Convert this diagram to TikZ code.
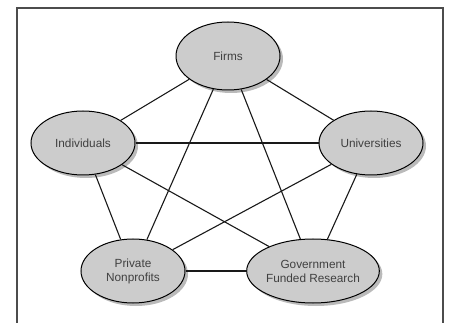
\documentclass[tikz,border=0pt]{standalone}
\usepackage{fontspec}
\setmainfont{Liberation Sans}
\usetikzlibrary{shapes.geometric,shadows}
\begin{document}
\begin{tikzpicture}[x=1pt,y=-1pt,
  actor/.style={ellipse, draw=black, line width=1pt, fill=black!20,
    minimum width=104pt, minimum height=64pt, inner sep=0pt,
    align=center, font=\fontsize{11.8}{14}\selectfont, text=black!75,
    drop shadow={shadow xshift=3pt, shadow yshift=-3pt, fill=black!45, opacity=0.6}},
  link/.style={draw=black!90, line width=1.1pt},
  frame/.style={draw=black!70, line width=1.1pt}]
\useasboundingbox (0,0) rectangle (450,323);
% open frame around the diagram
\draw[frame] (17,330) -- (17,8) -- (443,8) -- (443,330);
% the five actors
\node[actor, minimum height=68pt] (firms) at (228,56) {Firms};
\node[actor] (ind) at (83,143) {Individuals};
\node[actor] (uni) at (371,143) {Universities};
\node[actor] (npo) at (133,271) {Private\\Nonprofits};
\node[actor] (gov) at (313,271) {Government\\Funded Research};
% every pair of actors is linked
\path[link] (firms) -- (ind);
\path[link] (firms) -- (uni);
\path[link] (firms) -- (npo);
\path[link] (firms) -- (gov);
\path[link] (ind) -- (uni);
\path[link] (ind) -- (npo);
\path[link] (ind) -- (gov);
\path[link] (uni) -- (npo);
\path[link] (uni) -- (gov);
\path[link] (npo) -- (gov);
\end{tikzpicture}
\end{document}
